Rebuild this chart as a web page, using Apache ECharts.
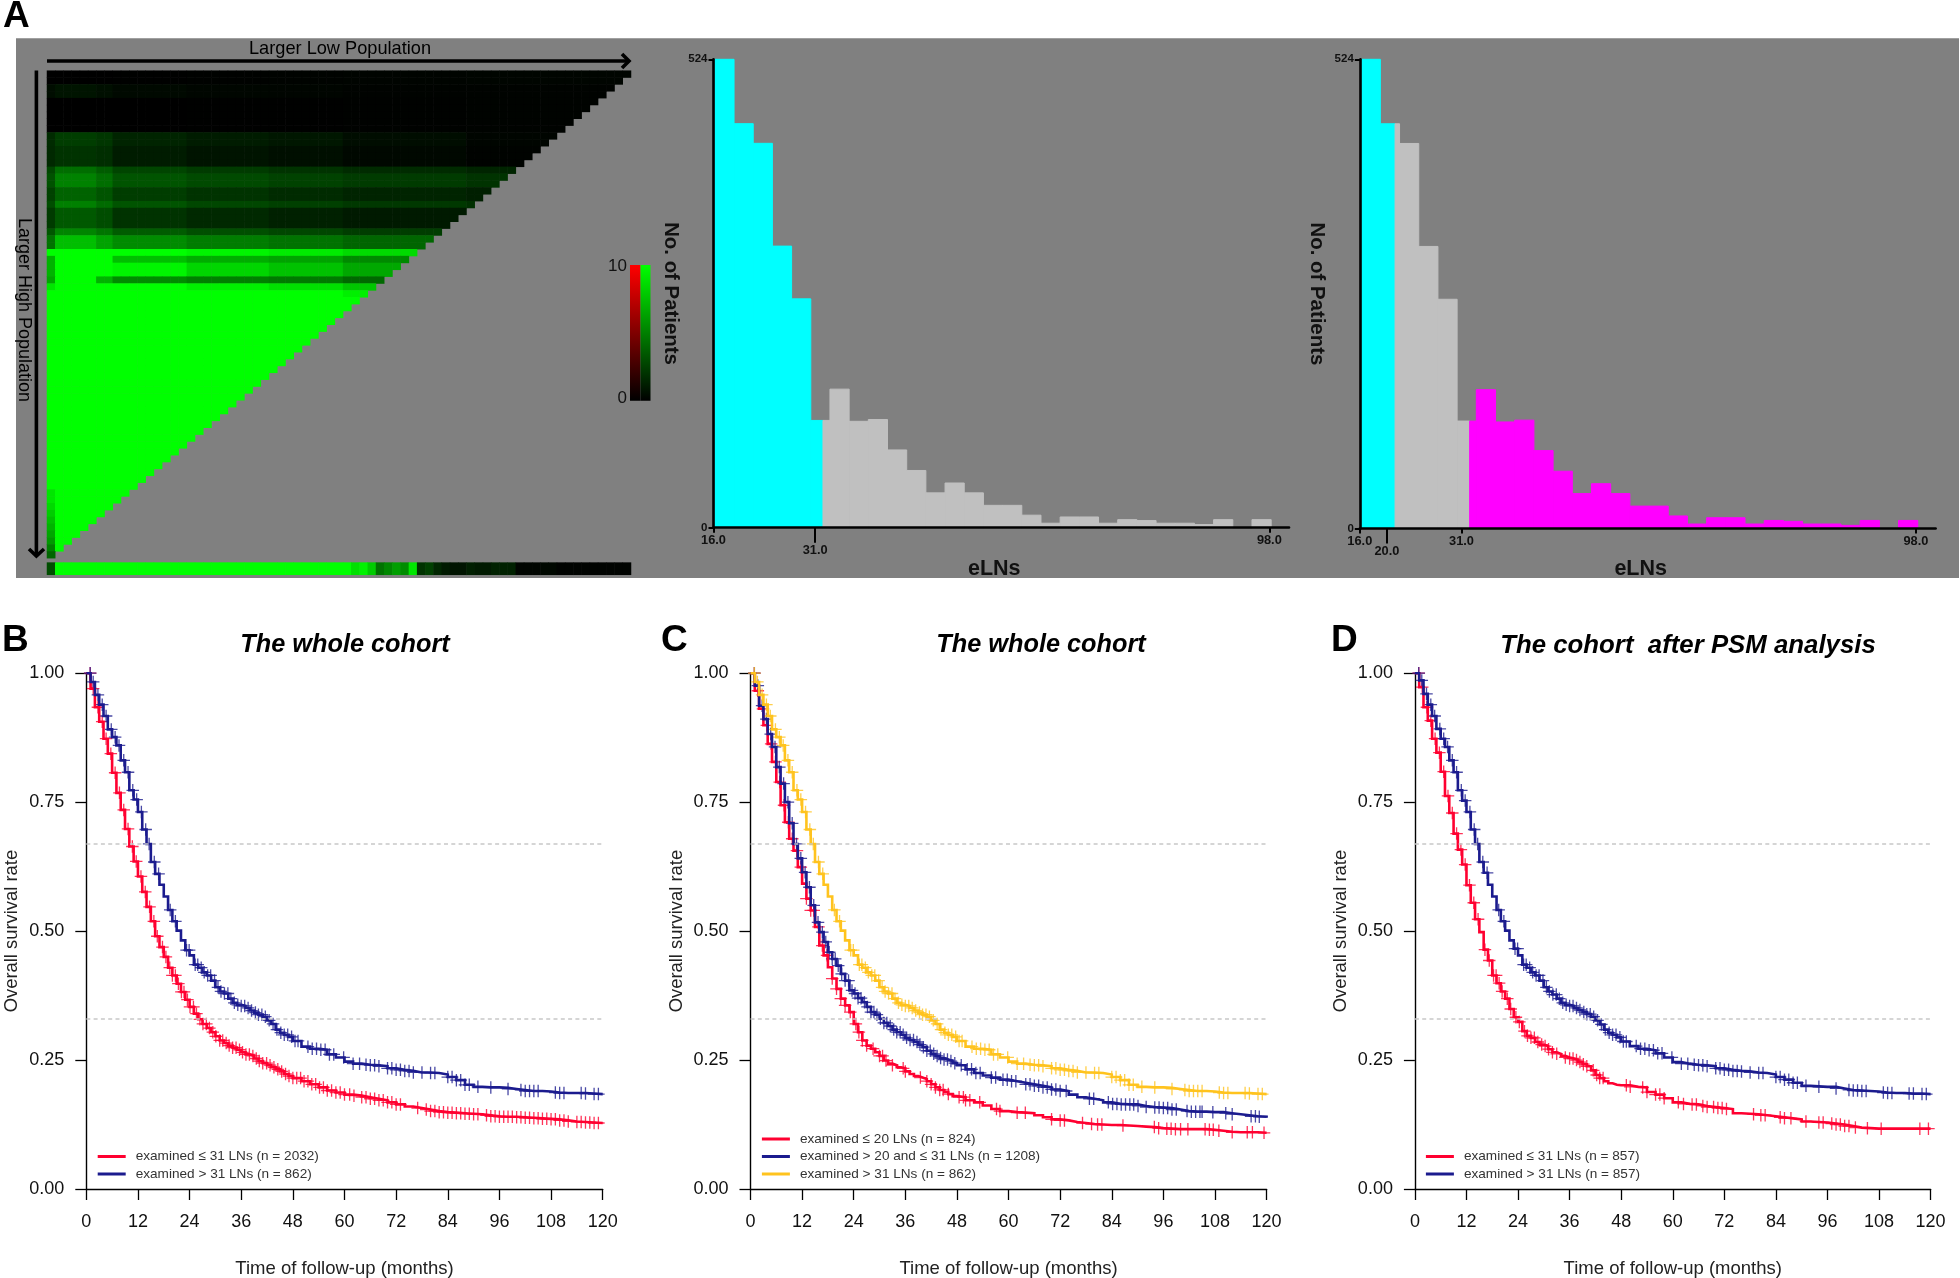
<!DOCTYPE html>
<html>
<head>
<meta charset="utf-8">
<style>html,body{margin:0;padding:0;background:#fff}#c{width:1960px;height:1278px}</style>
<script src="https://cdn.jsdelivr.net/npm/echarts@6/dist/echarts.min.js"></script>
</head>
<body>
<div id="c"></div>
<script>
// ---------- Panel A: heat map, read as bands of rows ----------
var heatSize = 71;
var heatBandEnds = [0, 5, 7, 16, 26, 35, 50, 70];
var heatBands = [
  [2, 0, 0, 0, .05, .08, .1, .15, .2],
  [2, .5, .8, .6, .35, .25, .2, .12, .1],
  [5, 0, 0, 0, 0, .02, .03, .06, .1],
  [2, 1.7, 2.4, 2.1, 1.4, 1.1, .9, .5, .2],
  [3, 1.6, 2, 1.8, 1.1, .8, .6, .3, .1],
  [1, 2.8, 4.3, 3.6, 2.7, 2.3, 2, 1.7, 1.4],
  [2, 3.2, 5.1, 4.3, 3.3, 2.9, 2.6, 2.3, 2],
  [2, 2.6, 3.9, 3.3, 2.4, 2, 1.7, 1.4, 1.2],
  [1, 3, 5, 4.2, 3.3, 2.8, 2.5, 2.2, 1.9],
  [3, 2.3, 3.5, 3, 2, 1.6, 1.3, 1, .8],
  [1, 3.4, 5.2, 4.6, 3.6, 3.1, 2.8, 2.4, 2.1],
  [2, 4.5, 7.5, 6.4, 5.5, 4.9, 4.5, 4, 3.5],
  [1, 10, 10, 10, 10, 9.6, 9.2, 8.6, 8.2],
  [1, 7, 10, 10, 7.5, 6.8, 6.4, 5.4, 4.9],
  [2, 7, 10, 10, 9.6, 8.4, 7.6, 6.6, 6.2],
  [1, 6.5, 10, 7, 5.5, 5, 4.8, 4.1, 3.8],
  [1, 9, 10, 10, 10, 9.4, 8.8, 7.8, 7.4],
  [1, 10, 10, 10, 10, 10, 10, 9.4, 9],
  [28, 10, 10, 10, 10, 10, 10, 10, 10],
  [2, 9, 10, 10, 10, 10, 10, 10, 10],
  [1, 8.5, 10, 10, 10, 10, 10, 10, 10],
  [1, 8, 10, 10, 10, 10, 10, 10, 10],
  [1, 7.5, 10, 10, 10, 10, 10, 10, 10],
  [1, 7, 10, 10, 10, 10, 10, 10, 10],
  [1, 6.5, 10, 10, 10, 10, 10, 10, 10],
  [1, 6, 10, 10, 10, 10, 10, 10, 10],
  [1, 5, 10, 10, 10, 10, 10, 10, 10],
  [1, 4, 10, 10, 10, 10, 10, 10, 10]
];
var heatBottomRow = [3,
  10,10,10,10,10,10,10,10,10,10,10,10,
  10,10,10,10,10,10,10,10,10,10,10,10,
  10,10,10,10,10,10,10,10,10,10,10,10,
  8.8,9.5,8,4.5,5.3,6.2,5.5,9,2,2.5,1.5,1,.8,.8,1.2,1,1,1.3,1.3,1.3,.2,.2,.2,.3,.3,.1,.1,.1,.1,.1,.1,.1,.1,.1];
var colorbarLabels = ['10', '0'];

// ---------- Panel A: histograms ----------
var binStart = 16.2, binWidth = 2.83;
var binCounts = [524,452,430,315,256,120,155,119,121,87,64,39,50,39,25,25,14,5,12,12,5,9,8,5,5,3.5,9,0,9];
var histCutsMiddle = [32.15], histCutsRight = [21.2, 32.2];
var histColorsMiddle = ['#00FFFF','#C0C0C0'], histColorsRight = ['#00FFFF','#C0C0C0','#FF00FF'];
var histTicksMiddle = [16, 31, 98], histTicksRight = [16, 20, 31, 98];

// ---------- Panels B, C, D: Kaplan-Meier curves ----------
var kmMonths = [0,1,2,3,4,5,6,7,8,9,10,11,12,13,14,15,16,17,18,19,20,21,22,23,24,25,26,27,28,29,30,31,32,33,34,35,36,37,38,39,40,41,42,43,44,45,46,47,48,
  50,52,54,56,58,60,62,64,66,68,70,72,74,76,78,80,82,84,86,88,90,92,94,96,98,100,102,104,106,108,110,112,114,116,118,120];
var over31 = [1,.983,.958,.939,.917,.891,.876,.860,.831,.808,.773,.755,.731,.697,.669,.634,.611,.590,.567,.541,.519,.501,.482,.463,.453,.435,.429,.420,.414,.404,.391,.383,.379,.369,.361,.357,.355,.351,.346,.342,.338,.334,.327,.320,.309,.303,.299,.295,.287,
  .276,.272,.270,.261,.255,.247,.243,.241,.240,.238,.234,.231,.229,.226,.226,.225,.222,.217,.211,.202,.198,.197,.197,.196,.194,.192,.190,.190,.189,.187,.186,.186,.186,.185,.184,.183];
var under31 = [1,.970,.934,.906,.873,.844,.807,.768,.735,.698,.664,.635,.606,.576,.547,.519,.490,.469,.450,.429,.414,.398,.382,.367,.353,.340,.329,.320,.312,.304,.296,.288,.283,.278,.274,.270,.265,.261,.258,.253,.248,.244,.240,.236,.232,.228,.223,.219,.215,
  .209,.203,.197,.191,.187,.183,.181,.178,.175,.172,.168,.164,.160,.157,.154,.151,.149,.148,.147,.146,.145,.143,.141,.140,.140,.139,.138,.137,.136,.135,.133,.131,.130,.129,.128,.127];
var under20 = [1,.966,.931,.899,.863,.828,.789,.744,.711,.679,.656,.624,.592,.563,.540,.508,.472,.453,.430,.408,.388,.369,.356,.343,.320,.304,.288,.278,.272,.265,.258,.249,.243,.240,.236,.234,.228,.223,.219,.216,.213,.209,.203,.197,.192,.188,.184,.180,.178,
  .172,.168,.162,.155,.151,.149,.148,.147,.143,.139,.135,.133,.130,.128,.126,.125,.124,.124,.123,.122,.121,.120,.118,.117,.116,.116,.116,.116,.115,.113,.111,.110,.110,.110,.109,.109];
var from20to31 = [1,.976,.937,.911,.882,.857,.818,.786,.750,.709,.669,.641,.614,.585,.550,.517,.498,.479,.459,.446,.433,.417,.404,.385,.379,.370,.362,.353,.343,.338,.330,.322,.316,.309,.304,.299,.293,.289,.285,.280,.275,.268,.262,.258,.254,.251,.248,.244,.240,
  .232,.225,.220,.216,.212,.209,.206,.203,.200,.197,.193,.190,.183,.178,.175,.172,.168,.165,.164,.164,.161,.159,.158,.157,.154,.151,.150,.150,.149,.149,.147,.145,.143,.141,.140,.138];
var psmUnder31 = [1,.973,.934,.908,.873,.846,.809,.762,.729,.689,.658,.629,.589,.555,.523,.498,.464,.443,.414,.399,.383,.369,.349,.333,.324,.306,.297,.293,.285,.280,.277,.271,.265,.262,.258,.255,.253,.250,.246,.242,.238,.230,.221,.215,.209,.205,.202,.201,.201,
  .198,.197,.188,.183,.176,.168,.165,.164,.161,.159,.157,.155,.147,.146,.145,.143,.141,.139,.137,.135,.131,.130,.129,.127,.125,.122,.119,.118,.117,.117,.117,.117,.117,.117,.117,.117];
var psmOver31 = [1,.986,.960,.939,.917,.892,.873,.857,.831,.808,.773,.753,.731,.697,.669,.634,.613,.590,.567,.541,.519,.501,.482,.466,.453,.435,.429,.420,.414,.404,.391,.383,.377,.369,.361,.357,.355,.351,.347,.343,.339,.334,.327,.319,.309,.303,.299,.294,.286,
  .277,.272,.269,.263,.255,.246,.243,.241,.240,.238,.234,.231,.229,.228,.226,.225,.222,.217,.212,.206,.200,.199,.198,.198,.195,.192,.191,.190,.189,.187,.186,.186,.185,.185,.184,.183];

var censOver31 = [.9,1.6,2.7,3.7,4.6,5.8,6.7,7.6,8.7,9.7,10.8,11.7,12.8,13.8,14.6,15.8,16.8,19.5,20.7,23.3,23.9,25.3,25.9,26.7,27.4,28.2,28.9,29.8,30.6,31.3,32.1,32.9,33.6,34.4,35.2,36,36.8,37.6,38.4,39.3,40,40.8,41.6,42.5,43.4,44.3,45.2,46,46.8,47.7,48.5,49.2,51.5,52.5,53.5,54.5,55.5,56.5,57.5,59.8,62,63.5,65,66,67,68,70,71,72,73,74,75,76,78,80,81,84,85,86,87,88,89,91,94,98,101,102,103,104,105,109,110,111,115,116,118,119];
var censUnder31 = [.9,1.6,2.7,3.7,4.6,5.7,6.7,7.7,8.7,9.7,10.7,11.6,12.7,13.7,14.7,15.7,16.5,17.7,18.5,19.4,20,20.7,21.4,22.1,22.7,23.5,24.1,24.9,25.6,26.4,27.1,27.9,28.6,29.4,30.1,31,31.7,32.5,33.2,34,34.8,35.6,36.3,37.1,37.9,38.7,39.5,40.2,41,41.9,42.7,43.6,44.5,45.4,46.3,47.1,48,48.9,49.8,50.6,51.5,52.4,53.3,54.2,55.1,56,57,58,59,60,61.2,62.2,64,65,66,67,68,69,70,71,72,73,77,79,80,81,82,83,84,85,86,87,88,89,90,91,93,94,95,96,97,98,99,100,101,102,103,104,105,106,107,108,109,110,111,112,114,115,116,117,118,119];
var censUnder20 = [.9,1.7,2.9,3.8,4.8,5.8,6.8,7.8,8.8,9.7,10.8,11.7,13,14,14.7,15.8,16.7,17.8,19,20,21,22,23.2,24.5,25.2,26,27,28.5,30,30.7,31.5,33,35.5,36,39.5,41,42,43,44,44.8,46,48.5,49.5,50,51,53.3,57.2,58,62,63.9,70,72,73,77.2,79.3,80.7,81.7,86.6,93.9,94.9,96.8,97.8,98.8,100,101.7,105.7,106.7,107.6,108.9,112,115.5,116.7,119.4];
var cens20to31 = [.9,1.7,2.7,3.7,4.7,5.7,6.7,7.7,8.7,9.7,10.7,11.7,12.7,13.7,14.7,15.7,16.7,17.5,18.3,19,19.7,20.4,21.2,22,22.8,23.6,24.3,25,25.7,26.5,27.2,28,28.7,29.4,30.2,31,31.7,32.5,33.3,34,34.8,35.5,36.3,37.1,37.9,38.7,39.4,40.2,41,41.8,42.6,43.4,44.2,45,45.8,46.6,47.5,49,50.4,51.4,52.4,53.4,56,57,58.7,59.7,60.7,61.7,64,65,66,67,68,69,70,71,72,73.4,78.8,79.8,83.2,84.2,85.2,86.2,87.2,88.2,89.1,90.1,92,94,95,96,97,98,99,101.5,102.5,103.5,104.5,105,107.5,110.5,112,116.4,117.4,118.3];
var censPsmUnder31 = [.9,1.7,2.8,3.7,4.7,5.7,6.7,7.7,8.7,9.7,10.7,11.7,12.7,13.7,14.7,16.3,17.3,18.3,18.9,19.6,20.3,21.5,22.3,23.5,24.3,25.5,26.2,27,27.8,28.6,29.5,30.3,31.1,32,33,35,36,36.8,37.6,38.4,39.2,40,41.5,42.3,43,43.8,49.2,50.1,53,54,56,57,58,61.3,62.5,64.5,65.5,67,68,69.5,70.5,71.5,72.5,78.8,80.5,81.5,85,86,87.5,91,94,95,97,98,99,100,101,102.5,105.3,108.5,117.5,119.5];

var xTickMonths = 12, refLines = [.667, .333];
var titleB = 'The whole cohort', titleC = 'The whole cohort', titleD = 'The cohort  after PSM analysis';
var RED = '#FF0030', NAVY = '#1B1B8E', YELLOW = '#FFC31E';
var FONT = '"Liberation Sans", Arial, sans-serif';

// ---------- helpers ----------
function seq(n){var a=[];for(var i=0;i<n;i++)a.push(i);return a;}
function heatCells(){
  var out=[],r=0;
  heatBands.forEach(function(b){
    for(var k=0;k<b[0];k++,r++){
      var seg=0;
      for(var c=0;c<heatSize-r;c++){
        while(c>heatBandEnds[seg])seg++;
        out.push([c,r,b[seg+1]]);
      }
    }
  });
  return out;
}
function histItems(cuts){
  var out=[];
  binCounts.forEach(function(v,i){
    if(!v)return;
    var a=binStart+i*binWidth,b=a+binWidth,edges=[a];
    cuts.forEach(function(c){if(c>a&&c<b)edges.push(c);});
    edges.push(b);
    for(var k=0;k<edges.length-1;k++){
      var idx=0;while(idx<cuts.length&&edges[k]>=cuts[idx])idx++;
      out.push([edges[k],edges[k+1],v,idx]);
    }
  });
  return out;
}
function zip(vals){return kmMonths.map(function(m,i){return [m,vals[i]];});}
function levelAt(vals,t){var i=0;while(i+1<kmMonths.length&&kmMonths[i+1]<=t)i++;return vals[i];}
function censor(vals,times){return times.map(function(t){return [t,levelAt(vals,t)];});}

var grids=[],xAxes=[],yAxes=[],series=[],legends=[],titles=[];
function addGrid(l,t,r,b){grids.push({left:l,top:t,width:r-l,height:b-t,containLabel:false,outerBoundsMode:'none'});return grids.length-1;}

// heat map grids
var gHeat=addGrid(47,70.7,631,558.2);
xAxes.push({gridIndex:gHeat,type:'category',data:seq(heatSize),show:false});
yAxes.push({gridIndex:gHeat,type:'category',data:seq(heatSize),inverse:true,show:false});
series.push({type:'heatmap',name:'heat',xAxisIndex:xAxes.length-1,yAxisIndex:yAxes.length-1,data:heatCells(),progressive:0,itemStyle:{borderWidth:0}});
var gBar=addGrid(47,562.6,631,574.8);
xAxes.push({gridIndex:gBar,type:'category',data:seq(heatSize),show:false});
yAxes.push({gridIndex:gBar,type:'category',data:[0],show:false});
series.push({type:'heatmap',name:'heatBottom',xAxisIndex:xAxes.length-1,yAxisIndex:yAxes.length-1,data:heatBottomRow.map(function(v,i){return [i,0,v];}),progressive:0});

// histograms
function addHist(left,right,bottom,cuts,colors,ticks,longTick){
  var g=addGrid(left,59.3,right,bottom);
  var labelStyle={fontFamily:FONT,fontWeight:'bold',fontSize:12.8,color:'#111'};
  xAxes.push({gridIndex:g,type:'value',min:16,max:100.9,position:'bottom',z:5,splitLine:{show:false},
    name:'eLNs',nameLocation:'middle',nameGap:26,nameTextStyle:{fontFamily:FONT,fontWeight:'bold',fontSize:21.5,color:'#111',padding:[0,14,0,0]},
    axisLine:{onZero:false,lineStyle:{color:'#000',width:2.6}},
    axisTick:{show:true,length:5,customValues:ticks,lineStyle:{color:'#000',width:2}},
    axisLabel:{customValues:ticks,margin:6,color:'#111',
      formatter:function(v){return (v===longTick?'{low|':'{n|')+v.toFixed(1)+'}';},
      rich:{n:labelStyle,low:Object.assign({padding:[10,0,0,0]},labelStyle)}}});
  var xi=xAxes.length-1;
  xAxes.push({gridIndex:g,type:'value',min:16,max:100.9,position:'bottom',z:5,splitLine:{show:false},
    axisLine:{show:false},axisLabel:{show:false},
    axisTick:{show:true,length:15,customValues:[longTick],lineStyle:{color:'#000',width:2}}});
  yAxes.push({gridIndex:g,type:'value',min:0,max:524,z:5,splitLine:{show:false},
    name:'No. of Patients',nameLocation:'middle',nameRotate:-90,nameGap:33,nameTextStyle:{fontFamily:FONT,fontWeight:'bold',fontSize:20.4,color:'#111'},
    axisLine:{show:true,onZero:false,lineStyle:{color:'#000',width:2.6}},
    axisTick:{show:true,length:5,customValues:[0,524],lineStyle:{color:'#000',width:2}},
    axisLabel:{customValues:[0,524],margin:6,fontFamily:FONT,fontWeight:'bold',fontSize:11.5,color:'#111'}});
  series.push({type:'custom',name:'hist',xAxisIndex:xi,yAxisIndex:yAxes.length-1,data:histItems(cuts),encode:{x:[0,1],y:2},
    renderItem:function(p,api){
      var a=api.coord([api.value(0),api.value(2)]),b=api.coord([api.value(1),0]),c=colors[api.value(3)];
      return {type:'rect',shape:{x:a[0],y:a[1],width:b[0]-a[0],height:b[1]-a[1]},style:{fill:c,stroke:c,lineWidth:1}};
    }});
}
addHist(713.5,1289,527.7,histCutsMiddle,histColorsMiddle,histTicksMiddle,31);
addHist(1359.8,1935.6,528.5,histCutsRight,histColorsRight,histTicksRight,20);

// survival panels
function addKM(tag,left,right,title,titleX,curves,legendLeft){
  var g=addGrid(left,673.2,right,1189);
  xAxes.push({gridIndex:g,type:'value',min:0,max:120,interval:xTickMonths,splitLine:{show:false},
    name:'Time of follow-up (months)',nameLocation:'middle',nameGap:70,nameTextStyle:{fontFamily:FONT,fontSize:18.5,color:'#222'},
    axisLine:{onZero:false,lineStyle:{color:'#000',width:1.4}},axisTick:{length:11,lineStyle:{color:'#000',width:1.3}},
    axisLabel:{margin:24,fontFamily:FONT,fontSize:18,color:'#111',showMinLabel:true,showMaxLabel:true}});
  yAxes.push({gridIndex:g,type:'value',min:0,max:1,interval:.25,splitLine:{show:false},
    name:'Overall survival rate',nameLocation:'middle',nameGap:65,nameTextStyle:{fontFamily:FONT,fontSize:18.4,color:'#222'},
    axisLine:{show:true,onZero:false,lineStyle:{color:'#000',width:1.4}},axisTick:{show:true,length:11,lineStyle:{color:'#000',width:1.3}},
    axisLabel:{margin:22,fontFamily:FONT,fontSize:18,color:'#111',formatter:function(v){return v.toFixed(2);}}});
  var xi=xAxes.length-1,yi=yAxes.length-1;
  series.push({type:'line',name:'ref'+tag,xAxisIndex:xi,yAxisIndex:yi,data:[],z:1,silent:true,
    markLine:{silent:true,symbol:'none',animation:false,label:{show:false},
      lineStyle:{color:'#C8C8C8',type:[4,3.3],width:1.5},data:refLines.map(function(v){return {yAxis:v};})}});
  var names=[];
  curves.forEach(function(c){
    var nm=tag+':'+c.name;names.push(nm);
    series.push({type:'scatter',name:'cens'+nm,xAxisIndex:xi,yAxisIndex:yi,z:3,silent:true,
      symbol:'path://M0,5L10,5M5,0L5,10',symbolSize:12.5,
      itemStyle:{color:'none',borderColor:c.color,borderWidth:1.3,opacity:.8},
      data:censor(c.vals,c.cens)});
    series.push({type:'line',name:nm,xAxisIndex:xi,yAxisIndex:yi,z:4,step:'end',showSymbol:false,symbol:'none',
      itemStyle:{color:c.color},lineStyle:{color:c.color,width:2.6,join:'miter'},data:zip(c.vals)});
  });
  legends.push({data:names.map(function(n){return {name:n,icon:'rect'};}),orient:'vertical',left:legendLeft,padding:0,
    bottom:1278-1181,itemWidth:28,itemHeight:3,itemGap:3.5,selectedMode:false,
    textStyle:{fontFamily:FONT,fontSize:13.6,color:'#333',lineHeight:13,padding:[0,0,0,5]},
    formatter:function(n){return n.slice(n.indexOf(':')+1);}});
  titles.push({text:title,left:titleX,top:633,padding:0,textAlign:'center',textStyle:{fontFamily:FONT,fontStyle:'italic',fontWeight:'bold',fontSize:title.length>20?25.8:25.3,color:'#000'}});
}
addKM('B',86.3,602.7,titleB,345,[
  {name:'examined ≤ 31 LNs (n = 2032)',color:RED,vals:under31,cens:censUnder31},
  {name:'examined > 31 LNs (n = 862)',color:NAVY,vals:over31,cens:censOver31}],97.7);
addKM('C',750.5,1266.6,titleC,1041,[
  {name:'examined ≤ 20 LNs (n = 824)',color:RED,vals:under20,cens:censUnder20},
  {name:'examined > 20 and ≤ 31 LNs (n = 1208)',color:NAVY,vals:from20to31,cens:cens20to31},
  {name:'examined > 31 LNs (n = 862)',color:YELLOW,vals:over31,cens:censOver31}],761.9);
addKM('D',1414.9,1930.6,titleD,1688,[
  {name:'examined ≤ 31 LNs (n = 857)',color:RED,vals:psmUnder31,cens:censPsmUnder31},
  {name:'examined > 31 LNs (n = 857)',color:NAVY,vals:psmOver31,cens:censOver31}],1425.9);

// panel letters
[['A',3,-2],['B',2,622],['C',661,622],['D',1331,622]].forEach(function(p){
  titles.push({text:p[0],left:p[1],top:p[2],padding:0,textStyle:{fontFamily:FONT,fontSize:37,fontWeight:'bold',color:'#000'}});
});

var arrow={stroke:'#000',lineWidth:3.6,fill:null};
var graphic=[
  {type:'rect',silent:true,z:-10,shape:{x:16,y:38.3,width:1943,height:539.7},style:{fill:'#808080'}},
  {type:'polyline',silent:true,shape:{points:[[47,61],[628,61]]},style:arrow},
  {type:'polyline',silent:true,shape:{points:[[622,54],[629,61],[622,68]]},style:arrow},
  {type:'polyline',silent:true,shape:{points:[[36.4,70.4],[36.4,556]]},style:arrow},
  {type:'polyline',silent:true,shape:{points:[[29,549],[36.4,556],[44,549]]},style:arrow},
  {type:'text',silent:true,style:{x:340,y:49,text:'Larger Low Population',fontFamily:FONT,fontSize:18.2,fill:'#000',align:'center',verticalAlign:'middle'}},
  {type:'text',silent:true,x:24,y:310,rotation:-Math.PI/2,style:{x:0,y:0,text:'Larger High Population',fontFamily:FONT,fontSize:18,fill:'#000',align:'center',verticalAlign:'middle'}},
  {type:'rect',silent:true,shape:{x:630,y:265,width:10.5,height:135.7},style:{fill:{type:'linear',x:0,y:0,x2:0,y2:1,colorStops:[{offset:0,color:'#FF0000'},{offset:1,color:'#000'}]}}},
  {type:'rect',silent:true,shape:{x:640.5,y:265,width:10,height:135.7},style:{fill:{type:'linear',x:0,y:0,x2:0,y2:1,colorStops:[{offset:0,color:'#00FF00'},{offset:1,color:'#000'}]}}},
  {type:'text',silent:true,style:{x:627,y:266,text:colorbarLabels[0],fontFamily:FONT,fontSize:17,fill:'#111',align:'right',verticalAlign:'middle'}},
  {type:'text',silent:true,style:{x:627,y:398,text:colorbarLabels[1],fontFamily:FONT,fontSize:17,fill:'#111',align:'right',verticalAlign:'middle'}}
];

var chart=echarts.init(document.getElementById('c'),null,{width:1960,height:1278});
chart.setOption({
  animation:false,backgroundColor:'#fff',tooltip:{show:false},
  title:titles,grid:grids,xAxis:xAxes,yAxis:yAxes,series:series,legend:legends,graphic:graphic,
  visualMap:{type:'continuous',show:false,min:0,max:10,seriesIndex:[0,1],inRange:{color:['#000000','#00FF00']}}
});
</script>
</body>
</html>
